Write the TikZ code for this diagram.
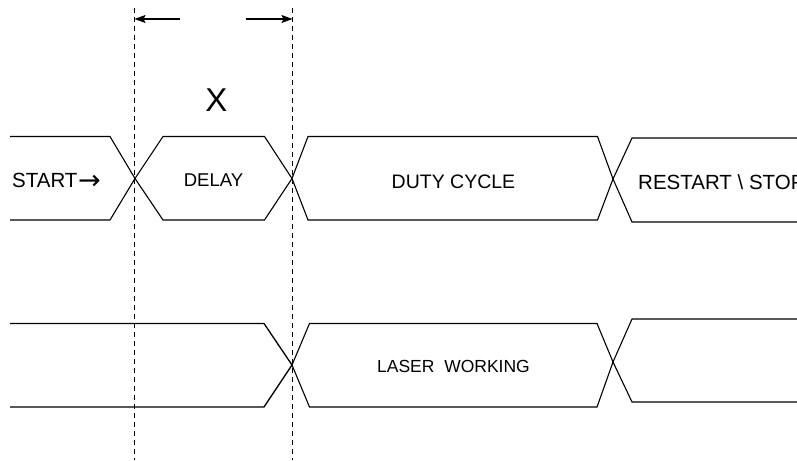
\documentclass[tikz,border=0pt]{standalone}
\usepackage{fontspec}
\setmainfont{Liberation Sans}
\newfontfamily\arrowfont{DejaVu Sans}
\usetikzlibrary{arrows.meta}
\begin{document}
\begin{tikzpicture}[x=1bp,y=-1bp,
  wave/.style={line width=1.1bp,line join=miter},
  guide/.style={line width=0.9bp,dash pattern=on 5bp off 4bp},
  dimarrow/.style={line width=1.1bp,-{Stealth[length=11bp,width=8bp,inset=2bp]}},
  lbl/.style={inner sep=0pt,text=black}]
\useasboundingbox (0,0) rectangle (797,461);
\clip (0,0) rectangle (797,461);
% top row
\draw[wave] (10,136.5) -- (110,136.5) -- (135,178.5) -- (110,220) -- (10,220);
\draw[wave] (135,178.5) -- (163,136.5) -- (264.5,136.5) -- (292,178.5) -- (264.5,220) -- (163,220) -- cycle;
\draw[wave] (292,178.5) -- (308,136.5) -- (597.5,136.5) -- (613,179) -- (597.5,220) -- (308,220) -- cycle;
\draw[wave] (800,138) -- (632,138) -- (613,179) -- (632,222) -- (800,222);
% bottom row
\draw[wave,line width=1.3bp] (10,323.5) -- (264,323.5) -- (292,365) -- (264,407) -- (10,407);
\draw[wave] (292,365) -- (309.5,323.5) -- (597,323.5) -- (613,362) -- (597,407) -- (309.5,407) -- cycle;
\draw[wave] (800,319) -- (632,319) -- (613,362) -- (632,402) -- (800,402);
% guides
\coordinate (g1t) at (134.5,8);
\coordinate (g1b) at (134.5,460);
\coordinate (g2t) at (292.5,8);
\coordinate (g2b) at (292.5,460);
\draw[guide] (g1t) -- (g1b);
\draw[guide] (g2t) -- (g2b);
% dimension arrows
\coordinate (a1s) at (180,19);
\coordinate (a1e) at (134.5,19);
\coordinate (a2s) at (246,19);
\coordinate (a2e) at (292.5,19);
\draw[dimarrow] (a1s) -- (a1e);
\draw[dimarrow] (a2s) -- (a2e);
% labels
\node[lbl,anchor=base] (x) at (216.5,112) {\fontsize{33bp}{36bp}\selectfont X};
\node[lbl,anchor=base west] (start) at (12,188) {\fontsize{20.5bp}{22bp}\selectfont START\kern0.5bp{\arrowfont\fontsize{27bp}{28bp}\selectfont\raisebox{-1.5bp}{→}}};
\node[lbl,anchor=base] (delay) at (213.5,187) {\fontsize{18.5bp}{20bp}\selectfont DELAY};
\node[lbl,anchor=base] (duty) at (453.5,189) {\fontsize{19.5bp}{21bp}\selectfont DUTY CYCLE};
\node[lbl,anchor=base west] (restart) at (638,190) {\fontsize{20.5bp}{22bp}\selectfont RESTART \textbackslash\ STOP};
\node[lbl,anchor=base] (laser) at (453.5,373) {\fontsize{17.5bp}{19bp}\selectfont LASER\ \ WORKING};
\end{tikzpicture}
\end{document}
